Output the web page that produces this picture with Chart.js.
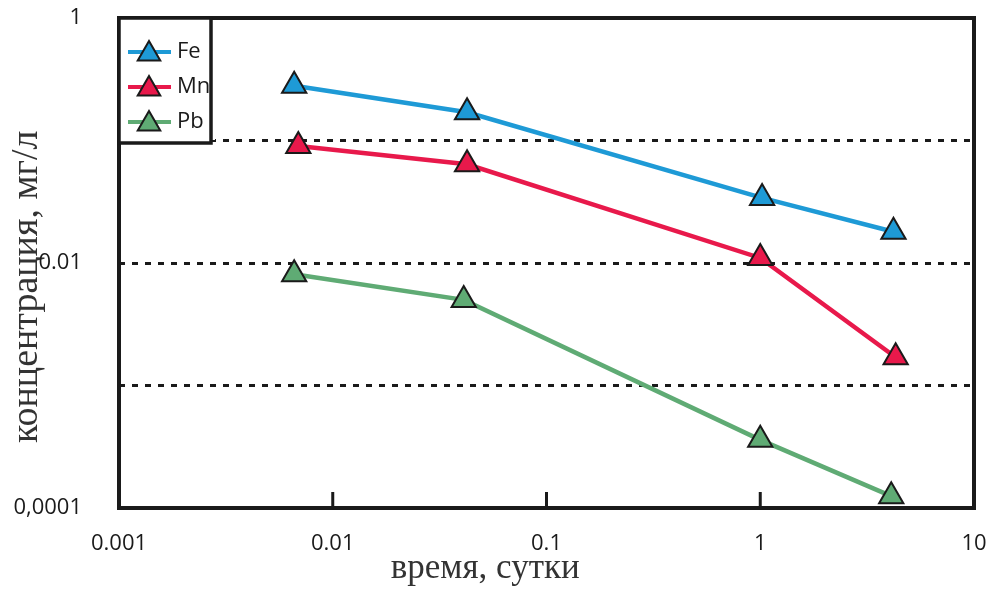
<!DOCTYPE html>
<html>
<head>
  <title>Концентрация</title>
  <script src="https://cdn.jsdelivr.net/npm/chart.js"></script>
  <style>
    body { margin: 0; background: #fff; }
    #wrap { width: 990px; height: 590px; }
  </style>
</head>
<body>
  <div id="wrap"><canvas id="chart" width="990" height="590"></canvas></div>
  <script>
    // время, сутки
    const feTime = [0.0066, 0.0425, 1.02, 4.2];
    const mnTime = [0.0069, 0.0425, 1.0, 4.3];
    const pbTime = [0.0066, 0.041, 1.0, 4.1];
    // концентрация, мг/л
    const feConc = [0.28, 0.17, 0.034, 0.018];
    const mnConc = [0.09, 0.064, 0.011, 0.0017];
    const pbConc = [0.0081, 0.005, 0.00036, 0.000125];

    const xTicks = [0.001, 0.01, 0.1, 1, 10];
    const xTickLabels = ['0.001', '0.01', '0.1', '1', '10'];
    const yTicks = [0.0001, 0.001, 0.01, 0.1, 1];
    const yTickLabels = ['0,0001', '', '0.01', '', '1'];

    const series = [
      { label: 'Fe', x: feTime, y: feConc, color: '#1e9ad6' },
      { label: 'Mn', x: mnTime, y: mnConc, color: '#e8194b' },
      { label: 'Pb', x: pbTime, y: pbConc, color: '#5fab74' }
    ];

    function tri(ctx, cx, cy, r) {
      ctx.beginPath();
      ctx.moveTo(cx, cy - r);
      ctx.lineTo(cx + r * Math.sin(2 * Math.PI / 3), cy - r * Math.cos(2 * Math.PI / 3));
      ctx.lineTo(cx + r * Math.sin(4 * Math.PI / 3), cy - r * Math.cos(4 * Math.PI / 3));
      ctx.closePath();
    }

    const frame = {
      id: 'frame',
      beforeDatasetsDraw(chart) {
        const { ctx, chartArea: a, scales } = chart;
        ctx.save();
        // short inside ticks on the x axis
        ctx.strokeStyle = '#1a1a1a';
        ctx.lineWidth = 3;
        [0.01, 0.1, 1].forEach(v => {
          const px = scales.x.getPixelForValue(v);
          ctx.beginPath();
          ctx.moveTo(px, a.bottom);
          ctx.lineTo(px, a.bottom - 16);
          ctx.stroke();
        });
        ctx.lineWidth = 4;
        ctx.strokeRect(a.left, a.top, a.right - a.left, a.bottom - a.top);
        ctx.restore();
      },
      afterDraw(chart) {
        const { ctx, chartArea: a } = chart;
        ctx.save();
        ctx.fillStyle = '#fff';
        ctx.fillRect(a.left, a.top, 92, 125);
        ctx.font = '22px "Open Sans"';
        ctx.textBaseline = 'middle';
        chart.data.datasets.forEach((ds, i) => {
          const y = a.top + 34 + i * 35;
          ctx.strokeStyle = ds.borderColor;
          ctx.lineWidth = 4;
          ctx.beginPath();
          ctx.moveTo(a.left + 9, y);
          ctx.lineTo(a.left + 52, y);
          ctx.stroke();
          ctx.fillStyle = ds.pointBackgroundColor;
          ctx.strokeStyle = '#1a1a1a';
          ctx.lineWidth = 2;
          tri(ctx, a.left + 30, y + 2, 13);
          ctx.fill();
          ctx.stroke();
          ctx.fillStyle = '#1a1a1a';
          ctx.fillText(ds.label, a.left + 58, y);
        });
        ctx.fillStyle = '#fff';
        ctx.fillRect(a.left + 92, a.top + 2, 4, 120);
        ctx.strokeStyle = '#1a1a1a';
        ctx.lineWidth = 3.5;
        ctx.strokeRect(a.left, a.top, 92, 125);
        ctx.restore();
      }
    };

    new Chart(document.getElementById('chart'), {
      type: 'line',
      data: {
        datasets: series.map(s => ({
          label: s.label,
          data: s.x.map((t, i) => ({ x: t, y: s.y[i] })),
          borderColor: s.color,
          borderWidth: 4.5,
          pointStyle: 'triangle',
          pointRadius: 14,
          pointHoverRadius: 14,
          pointBackgroundColor: s.color,
          pointBorderColor: '#1a1a1a',
          pointBorderWidth: 2,
          tension: 0,
          clip: false
        }))
      },
      options: {
        responsive: false,
        animation: false,
        layout: { padding: { top: 18, right: 14, left: 0, bottom: 0 } },
        plugins: { legend: { display: false }, tooltip: { enabled: false } },
        scales: {
          x: {
            type: 'logarithmic',
            min: 0.001,
            max: 10,
            afterBuildTicks: sc => { sc.ticks = xTicks.map(v => ({ value: v })); },
            afterFit: sc => {
              sc.height = 82;
              sc.paddingLeft = 0;
              sc.paddingRight = 0;
            },
            ticks: {
              autoSkip: false,
              maxRotation: 0,
              padding: 23,
              color: '#1a1a1a',
              font: { family: 'Open Sans', size: 22 },
              callback: (v, i) => xTickLabels[i]
            },
            grid: { display: false, drawTicks: false },
            border: { display: false },
            title: {
              display: true,
              // trailing spaces shift the centred title to the left, as in the original
              text: 'время, сутки' + ' '.repeat(14),
              color: '#333',
              font: { family: 'Liberation Serif', size: 35 },
              padding: { top: 0, bottom: 0 }
            }
          },
          y: {
            type: 'logarithmic',
            min: 0.0001,
            max: 1,
            afterBuildTicks: sc => { sc.ticks = yTicks.map(v => ({ value: v })); },
            afterFit: sc => {
              sc.width = 119;
              sc.paddingTop = 0;
              sc.paddingBottom = 0;
            },
            ticks: {
              autoSkip: false,
              padding: 37,
              color: '#1a1a1a',
              font: { family: 'Open Sans', size: 22 },
              callback: (v, i) => yTickLabels[i]
            },
            grid: {
              drawTicks: false,
              lineWidth: 3,
              color: c => (c.index === 0 || c.index === yTicks.length - 1) ? 'rgba(0,0,0,0)' : '#1a1a1a'
            },
            border: { display: false, dash: [6, 7] },
            title: {
              display: true,
              text: 'концентрация, мг/л' + ' '.repeat(5),
              color: '#333',
              font: { family: 'Liberation Serif', size: 38 },
              padding: { top: 4, bottom: 0 }
            }
          }
        }
      },
      plugins: [frame]
    });
  </script>
</body>
</html>
